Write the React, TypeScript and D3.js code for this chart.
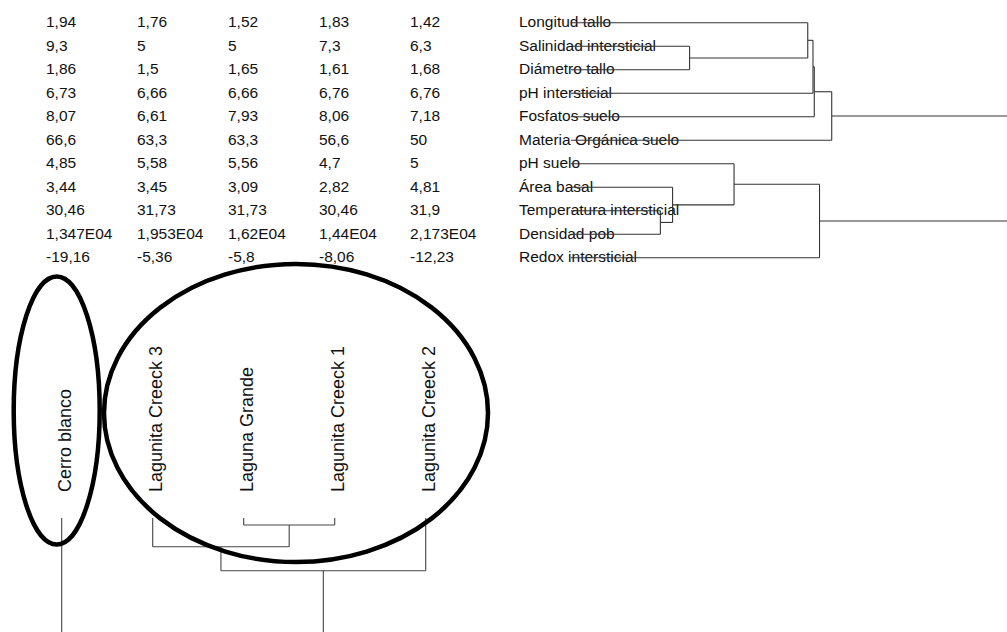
import React from "react";
import * as d3 from "d3";

const sites = [
  "Cerro blanco",
  "Lagunita Creeck 3",
  "Laguna Grande",
  "Lagunita Creeck 1",
  "Lagunita Creeck 2",
];

const variables = [
  "Longitud tallo",
  "Salinidad intersticial",
  "Diámetro tallo",
  "pH intersticial",
  "Fosfatos suelo",
  "Materia Orgánica suelo",
  "pH suelo",
  "Área basal",
  "Temperatura intersticial",
  "Densidad pob",
  "Redox intersticial",
];

const cerroBlanco = [1.94, 9.3, 1.86, 6.73, 8.07, 66.6, 4.85, 3.44, 30.46, 13470, -19.16];
const lagunitaCreeck3 = [1.76, 5, 1.5, 6.66, 6.61, 63.3, 5.58, 3.45, 31.73, 19530, -5.36];
const lagunaGrande = [1.52, 5, 1.65, 6.66, 7.93, 63.3, 5.56, 3.09, 31.73, 16200, -5.8];
const lagunitaCreeck1 = [1.83, 7.3, 1.61, 6.76, 8.06, 56.6, 4.7, 2.82, 30.46, 14400, -8.06];
const lagunitaCreeck2 = [1.42, 6.3, 1.68, 6.76, 7.18, 50, 5, 4.81, 31.9, 21730, -12.23];

// merges: [childA, childB, distance]; "#k" refers to the k-th merge
const variableMerges: [string, string, number][] = [
  ["Salinidad intersticial", "Diámetro tallo", 2.72],
  ["Longitud tallo", "#0", 5.43],
  ["#1", "pH intersticial", 5.55],
  ["#2", "Fosfatos suelo", 5.58],
  ["#3", "Materia Orgánica suelo", 5.98],
  ["Temperatura intersticial", "Densidad pob", 2.05],
  ["Área basal", "#5", 2.33],
  ["pH suelo", "#6", 3.74],
  ["#7", "Redox intersticial", 5.7],
  ["#4", "#8", 10.4],
];

const siteMerges: [string, string, number][] = [
  ["Laguna Grande", "Lagunita Creeck 1", 0.61],
  ["Lagunita Creeck 3", "#0", 2.52],
  ["#1", "Lagunita Creeck 2", 4.63],
  ["Cerro blanco", "#2", 10.6],
];

const columns = [cerroBlanco, lagunitaCreeck3, lagunaGrande, lagunitaCreeck1, lagunitaCreeck2];

function fmt(v: number): string {
  if (Math.abs(v) >= 10000) {
    const m = +(v / 1e4).toFixed(3);
    return String(m).replace(".", ",") + "E04";
  }
  return String(v).replace(".", ",");
}

function dendroSegments(
  merges: [string, string, number][],
  leafPos: (n: string) => number
) {
  const nodes: { pos: number; h: number }[] = [];
  const get = (k: string) => {
    if (k.startsWith("#")) return nodes[+k.slice(1)];
    return { pos: leafPos(k), h: 0 };
  };
  const segs: { p1: number; h1: number; p2: number; h2: number }[] = [];
  merges.forEach(([ka, kb, dist]) => {
    const A = get(ka);
    const B = get(kb);
    segs.push({ p1: A.pos, h1: A.h, p2: A.pos, h2: dist });
    segs.push({ p1: B.pos, h1: B.h, p2: B.pos, h2: dist });
    segs.push({ p1: A.pos, h1: dist, p2: B.pos, h2: dist });
    nodes.push({ pos: (A.pos + B.pos) / 2, h: dist });
  });
  return segs;
}

export default function App() {
  const W = 1007;
  const H = 632;
  const font = "'Liberation Sans', Arial, sans-serif";

  const rowY = d3.scalePoint<string>().domain(variables).range([22.7, 257.7]);
  const colX = d3.scalePoint<string>().domain(sites).range([61.7, 425.7]);
  const rowDist = d3.scaleLinear().domain([0, 10]).range([571, 1007]);
  const colDist = d3.scaleLinear().domain([0, 10]).range([518, 632]);

  const rowSegs = dendroSegments(variableMerges, (n) => rowY(n)!);
  const colSegs = dendroSegments(siteMerges, (n) => colX(n)!);

  return (
    <div style={{ position: "absolute", left: 0, top: 0 }}>
      <style>{"body{margin:0}"}</style>
      <svg width={W} height={H} style={{ display: "block", background: "#fff" }}>
        <rect x={0} y={0} width={W} height={H} fill="#fff" />
        <g fontFamily={font} fontSize={15.5} fill="#111">
          {columns.map((col, ci) =>
            col.map((v, ri) => (
              <text
                key={ci + "-" + ri}
                x={colX(sites[ci])! - 15.7}
                y={rowY(variables[ri])! + 4.6}
              >
                {fmt(v)}
              </text>
            ))
          )}
        </g>
        <g fontFamily={font} fontSize={15.5} fill="#111">
          {variables.map((v) => (
            <text key={v} x={519} y={rowY(v)! + 4.6}>
              {v}
            </text>
          ))}
        </g>
        <g stroke="#333" strokeWidth={1.1} fill="none">
          {rowSegs.map((s, i) => (
            <line
              key={i}
              x1={rowDist(s.h1)}
              y1={s.p1}
              x2={rowDist(s.h2)}
              y2={s.p2}
            />
          ))}
        </g>
        <g fontFamily={font} fontSize={18} fill="#111">
          {sites.map((s) => (
            <text
              key={s}
              transform={`translate(${colX(s)! + 9.5},492) rotate(-90)`}
            >
              {s}
            </text>
          ))}
        </g>
        <g stroke="#444" strokeWidth={1.1} fill="none">
          {colSegs.map((s, i) => (
            <line
              key={i}
              x1={s.p1}
              y1={colDist(s.h1)}
              x2={s.p2}
              y2={colDist(s.h2)}
            />
          ))}
        </g>
        <g stroke="#000" strokeWidth={4.5} fill="none">
          <ellipse cx={56.7} cy={410.5} rx={43} ry={134} />
          <ellipse cx={296} cy={413} rx={192} ry={149} />
        </g>
      </svg>
    </div>
  );
}
